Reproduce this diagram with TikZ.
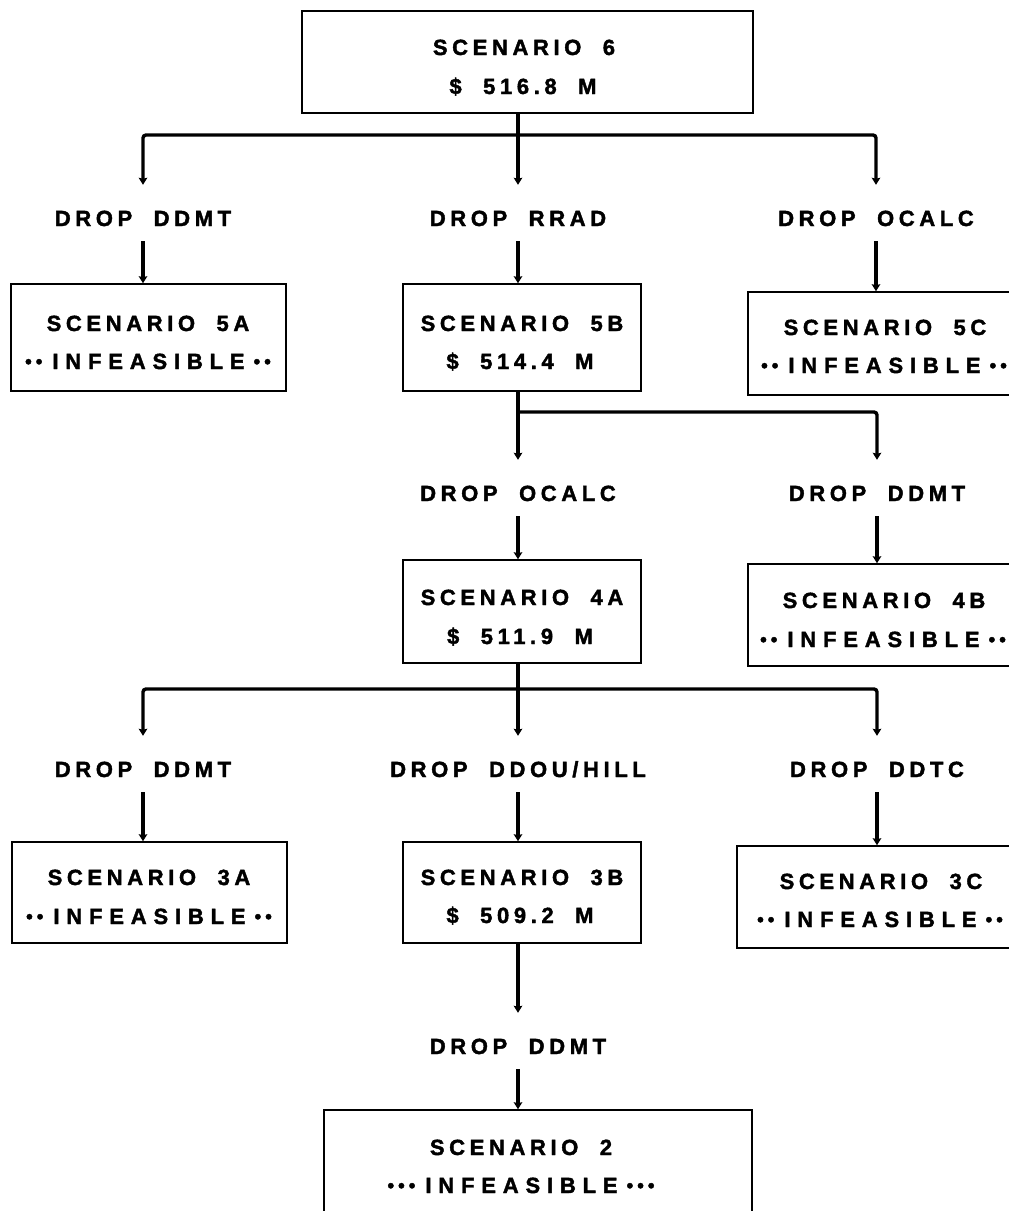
\documentclass[tikz,border=0pt]{standalone}
\usepackage{fontspec}
\newfontfamily\lab{Liberation Sans Bold}[LetterSpace=21,WordSpace=2,FakeBold=1.8]
\newfontfamily\labwide{Liberation Sans Bold}[LetterSpace=31,FakeBold=1.8]
\usetikzlibrary{arrows.meta}
% raised dots framing the "infeasible" lines
\newcommand\dotrun[1]{\raisebox{1pt}{\fontsize{19}{19}\selectfont #1}}
\newcommand\infeas[1]{\dotrun{#1}\hspace{10pt}{\labwide INFEASIBLE}\hspace{9pt}\dotrun{#1}}

\begin{document}
\begin{tikzpicture}[x=1pt,y=-1pt,
  box/.style={draw, line width=1.5pt, inner sep=0pt},
  txt/.style={font=\lab\fontsize{22}{22}\selectfont, inner sep=0pt,
              text height=16pt, text depth=0pt},
  conn/.style={line width=3.4pt, rounded corners=3pt,
               -{Stealth[length=7pt,width=8.5pt,inset=1pt]}},
  tolbl/.style={conn, shorten >=25pt},
  tobox/.style={conn, shorten <=15pt},
]
\useasboundingbox (0,0) rectangle (1009,1211);
\clip (0,0) rectangle (1009,1211);

% ---------- scenario boxes ----------
\node[box, minimum width=451pt, minimum height=102pt] (s6)  at (527.5,62)    {};
\node[box, minimum width=275pt, minimum height=107pt] (s5a) at (148.5,337.5) {};
\node[box, minimum width=238pt, minimum height=107pt] (s5b) at (522,337.5)   {};
\node[box, minimum width=274pt, minimum height=103pt] (s5c) at (885,343.5)   {};
\node[box, minimum width=238pt, minimum height=103pt] (s4a) at (522,611.5)   {};
\node[box, minimum width=272pt, minimum height=102pt] (s4b) at (884,615)     {};
\node[box, minimum width=275pt, minimum height=101pt] (s3a) at (149.5,892.5) {};
\node[box, minimum width=238pt, minimum height=101pt] (s3b) at (522,892.5)   {};
\node[box, minimum width=288pt, minimum height=102pt] (s3c) at (881,897)     {};
\node[box, minimum width=428pt, minimum height=140pt] (s2)  at (538,1180)    {};

% ---------- box texts ----------
\node[txt] (s6a)  at (524,47)   {SCENARIO 6};
\node[txt] (s6b)  at (523,86)   {\$ 516.8 M};
\node[txt] (s5at) at (148,323)  {SCENARIO 5A};
\node[txt] (s5ab) at (148,361)  {\infeas{••}};
\node[txt] (s5bt) at (522,323)  {SCENARIO 5B};
\node[txt] (s5bb) at (520,361)  {\$ 514.4 M};
\node[txt] (s5ct) at (885,327)  {SCENARIO 5C};
\node[txt] (s5cb) at (884,365)  {\infeas{••}};
\node[txt] (s4at) at (522,597)  {SCENARIO 4A};
\node[txt] (s4ab) at (520,636)  {\$ 511.9 M};
\node[txt] (s4bt) at (884,600)  {SCENARIO 4B};
\node[txt] (s4bb) at (883,639)  {\infeas{••}};
\node[txt] (s3at) at (149,877)  {SCENARIO 3A};
\node[txt] (s3ab) at (149,916)  {\infeas{••}};
\node[txt] (s3bt) at (522,877)  {SCENARIO 3B};
\node[txt] (s3bb) at (520,915)  {\$ 509.2 M};
\node[txt] (s3ct) at (881,881)  {SCENARIO 3C};
\node[txt] (s3cb) at (880,919)  {\infeas{••}};
\node[txt] (s2t)  at (521,1147) {SCENARIO 2};
\node[txt] (s2b)  at (521,1185) {\infeas{•••}};

% ---------- drop labels ----------
\node[txt] (d1a) at (143,218)  {DROP DDMT};
\node[txt] (d1b) at (518,218)  {DROP RRAD};
\node[txt] (d1c) at (876,218)  {DROP OCALC};
\node[txt] (d2a) at (518,493)  {DROP OCALC};
\node[txt] (d2b) at (877,493)  {DROP DDMT};
\node[txt] (d3a) at (143,769)  {DROP DDMT};
\node[txt] (d3b) at (518,769)  {DROP DDOU/HILL};
\node[txt] (d3c) at (877,769)  {DROP DDTC};
\node[txt] (d4)  at (518,1046) {DROP DDMT};

% ---------- branch points ----------
\coordinate (j1) at (518,135);
\coordinate (j2) at (518,412);
\coordinate (j3) at (518,689);

% ---------- connectors ----------
\draw[tolbl] (s6.south -| d1b) -- (d1b.north);
\draw[tolbl] (j1) -| (d1a.north);
\draw[tolbl] (j1) -| (d1c.north);
\draw[tobox] (d1a.south) -- (d1a.south |- s5a.north);
\draw[tobox] (d1b.south) -- (d1b.south |- s5b.north);
\draw[tobox] (d1c.south) -- (d1c.south |- s5c.north);

\draw[tolbl] (s5b.south -| d2a) -- (d2a.north);
\draw[tolbl] (j2) -| (d2b.north);
\draw[tobox] (d2a.south) -- (d2a.south |- s4a.north);
\draw[tobox] (d2b.south) -- (d2b.south |- s4b.north);

\draw[tolbl] (s4a.south -| d3b) -- (d3b.north);
\draw[tolbl] (j3) -| (d3a.north);
\draw[tolbl] (j3) -| (d3c.north);
\draw[tobox] (d3a.south) -- (d3a.south |- s3a.north);
\draw[tobox] (d3b.south) -- (d3b.south |- s3b.north);
\draw[tobox] (d3c.south) -- (d3c.south |- s3c.north);

\draw[tolbl] (s3b.south -| d4) -- (d4.north);
\draw[tobox] (d4.south) -- (d4.south |- s2.north);
\end{tikzpicture}
\end{document}
